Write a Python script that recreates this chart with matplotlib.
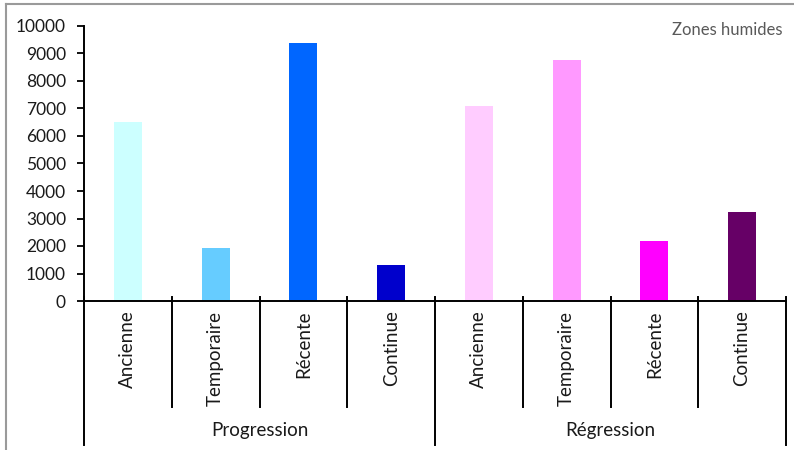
''' bar chart: zones humides, progression / regression '''
import matplotlib
matplotlib.use('Agg')
import matplotlib.pyplot as plt
from matplotlib.lines import Line2D
import matplotlib.transforms as mtransforms

groups = ['Progression', 'Régression']
categories = ['Ancienne', 'Temporaire', 'Récente', 'Continue']
progression = [6500, 1930, 9380, 1300]
regression = [7100, 8770, 2200, 3230]
colors_prog = ['#CCFFFF', '#66CCFF', '#0066FF', '#0000CC']
colors_regr = ['#FFCCFF', '#FF99FF', '#FF00FF', '#660066']
yticks = [0, 1000, 2000, 3000, 4000, 5000, 6000, 7000, 8000, 9000, 10000]


def main():
    plt.rcParams['font.family'] = ['Lato', 'DejaVu Sans']
    fig = plt.figure(figsize=(7.94, 4.5), dpi=100)
    ax = fig.add_axes([84 / 794, 1 - 301 / 450, 702 / 794, 275 / 450])

    values = progression + regression
    colors = colors_prog + colors_regr
    labels = categories + categories
    xs = [i + 0.5 for i in range(len(values))]
    ax.bar(xs, values, width=0.32, color=colors)

    ax.set_xlim(0, len(values))
    ax.set_ylim(0, 10000)
    ax.set_yticks(yticks)
    ax.set_yticklabels([str(v) for v in yticks], fontsize=12.5,
                       color='#1a1a1a')
    ax.tick_params(axis='y', direction='out', length=5, width=1.3, pad=8)
    ax.set_xticks([])

    for s in ['top', 'right']:
        ax.spines[s].set_visible(False)
    for s in ['left', 'bottom']:
        ax.spines[s].set_linewidth(1.4)

    trans = mtransforms.blended_transform_factory(ax.transData, ax.transAxes)
    # category separators
    for i in range(len(values) + 1):
        low = -0.524 if i % 4 == 0 else -0.385
        ax.add_line(Line2D([i, i], [0.015, low], color='black', lw=1.4,
                           transform=trans, clip_on=False))
    for x, lab in zip(xs, labels):
        ax.text(x, -0.035, lab, rotation=90, ha='center', va='top',
                fontsize=13.5, transform=trans, color='#1a1a1a')
    for k, g in enumerate(groups):
        ax.text(2 + 4 * k, -0.47, g, ha='center', va='center',
                fontsize=13.5, transform=trans, color='#1a1a1a')

    fig.text(782 / 794, 1 - 30 / 450, 'Zones humides', ha='right',
             va='center', fontsize=12, color='#595959')

    # screenshot border
    fig.add_artist(Line2D([6 / 794, 1], [1 - 4 / 450, 1 - 4 / 450],
                          color='#9a9a9a', lw=1.5, transform=fig.transFigure))
    fig.add_artist(Line2D([6 / 794, 6 / 794], [0, 1 - 4 / 450],
                          color='#9a9a9a', lw=1.5, transform=fig.transFigure))

    fig.savefig('out.png', dpi=100)


if __name__ == '__main__':
    main()
